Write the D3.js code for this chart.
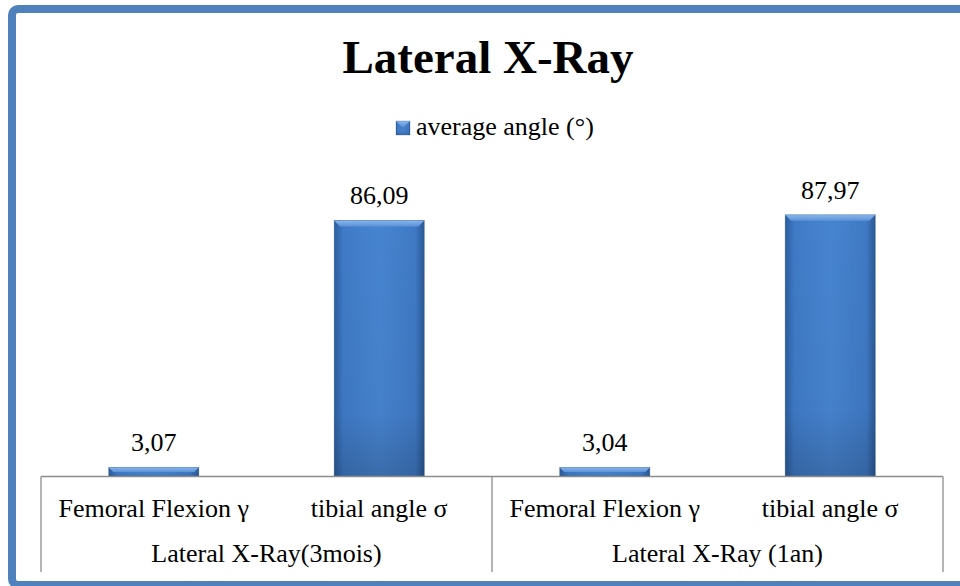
<!DOCTYPE html>
<html>
<head>
<meta charset="utf-8">
<script src="https://cdn.jsdelivr.net/npm/d3@7/dist/d3.min.js"></script>
<style>
  html, body { margin: 0; padding: 0; background: #fff; overflow: hidden; }
  svg { display: block; }
  text { font-family: "Liberation Serif", "Times New Roman", serif; fill: #000; }
</style>
</head>
<body>
<svg id="chart" width="960" height="586"></svg>
<script>
// ---- data ----
const title = "Lateral X-Ray";
const seriesName = "average angle (°)";
const groups = ["Lateral X-Ray(3mois)", "Lateral X-Ray (1an)"];
const categories = ["Femoral Flexion γ", "tibial angle σ", "Femoral Flexion γ", "tibial angle σ"];
const categoryGroup = [0, 0, 1, 1];
const values = [3.07, 86.09, 3.04, 87.97];
const valueLabels = ["3,07", "86,09", "3,04", "87,97"];
const yDomain = [0, 100];

// ---- layout ----
const svg = d3.select("#chart");
const plot = { left: 41, right: 943, top: 179, bottom: 476.5 };
const centerX = 488;

const defs = svg.append("defs");
const gH = defs.append("linearGradient").attr("id", "barH").attr("x1", 0).attr("x2", 1).attr("y1", 0).attr("y2", 0);
[[0, "#2c5d9c"], [0.1, "#3f7ac6"], [0.5, "#4784d0"], [0.9, "#3f79c4"], [1, "#2a5893"]]
  .forEach(([o, c]) => gH.append("stop").attr("offset", o).attr("stop-color", c));
const gV = defs.append("linearGradient").attr("id", "barV").attr("x1", 0).attr("x2", 0).attr("y1", 0).attr("y2", 1);
[[0, "#000", 0], [0.75, "#000", 0.03], [1, "#000", 0.18]]
  .forEach(([o, c, a]) => gV.append("stop").attr("offset", o).attr("stop-color", c).attr("stop-opacity", a));
const gT = defs.append("linearGradient").attr("id", "bevelT").attr("x1", 0).attr("x2", 0).attr("y1", 0).attr("y2", 1);
[[0, "#8ab6ec"], [1, "#5b92d8"]].forEach(([o, c]) => gT.append("stop").attr("offset", o).attr("stop-color", c));

// border frame: left, top and bottom sides (right side is outside the picture)
svg.append("path")
  .attr("d", "M975,9 H18 A6,6 0 0 0 12,15 V579 A6,6 0 0 0 18,585 H975")
  .attr("fill", "none").attr("stroke", "#4f81bd").attr("stroke-width", 8);

// title
svg.append("text")
  .attr("x", centerX).attr("y", 73)
  .attr("text-anchor", "middle")
  .style("font-size", "47px").style("font-weight", "bold")
  .text(title);

// scales
const x = d3.scaleBand().domain(d3.range(categories.length))
  .range([plot.left, plot.right]).paddingInner(0.6).paddingOuter(0.3);
const y = d3.scaleLinear().domain(yDomain).range([plot.bottom, plot.top]);
const step = (plot.right - plot.left) / categories.length;

function drawBar(g, x0, y0, w, h) {
  g.append("rect").attr("x", x0).attr("y", y0).attr("width", w).attr("height", h).attr("fill", "url(#barH)");
  g.append("rect").attr("x", x0).attr("y", y0).attr("width", w).attr("height", h).attr("fill", "url(#barV)");
  const b = Math.min(6, h / 2);
  g.append("path")
    .attr("d", `M${x0},${y0} L${x0 + w},${y0} L${x0 + w - b},${y0 + b} L${x0 + b},${y0 + b} Z`)
    .attr("fill", "url(#bevelT)");
  g.append("rect").attr("x", x0).attr("y", y0).attr("width", w).attr("height", h)
    .attr("fill", "none").attr("stroke", "#2a5590").attr("stroke-opacity", 0.35).attr("stroke-width", 0.8);
}

// legend
const lg = svg.append("g");
drawBar(lg, 396, 121, 14, 14);
lg.append("text").attr("x", 416).attr("y", 135).style("font-size", "26px").text(seriesName);

// bars
const bars = svg.append("g");
values.forEach((v, i) => {
  const g = bars.append("g");
  drawBar(g, x(i), y(v), x.bandwidth(), y(0) - y(v));
  g.append("text")
    .attr("x", x(i) + x.bandwidth() / 2).attr("y", y(v) - 16)
    .attr("text-anchor", "middle").style("font-size", "26px")
    .text(valueLabels[i]);
});

// axis lines
const axis = svg.append("g").attr("stroke", "#8c8c8c").attr("stroke-width", 1.3);
axis.append("line").attr("x1", plot.left).attr("x2", plot.right).attr("y1", plot.bottom).attr("y2", plot.bottom);
const dividers = [0, 2, 4].map(k => plot.left + k * step);
dividers.forEach(dx => {
  axis.append("line").attr("x1", dx).attr("x2", dx).attr("y1", plot.bottom).attr("y2", 572);
});

// category labels
categories.forEach((c, i) => {
  svg.append("text")
    .attr("x", plot.left + (i + 0.5) * step).attr("y", 517)
    .attr("text-anchor", "middle").style("font-size", "26px")
    .text(c);
});
// group labels
groups.forEach((gname, gi) => {
  const idx = categoryGroup.map((g, i) => g === gi ? i : -1).filter(i => i >= 0);
  const cx = plot.left + (d3.mean(idx) + 0.5) * step;
  svg.append("text")
    .attr("x", cx).attr("y", 562)
    .attr("text-anchor", "middle").style("font-size", "26px")
    .text(gname);
});
</script>
</body>
</html>
